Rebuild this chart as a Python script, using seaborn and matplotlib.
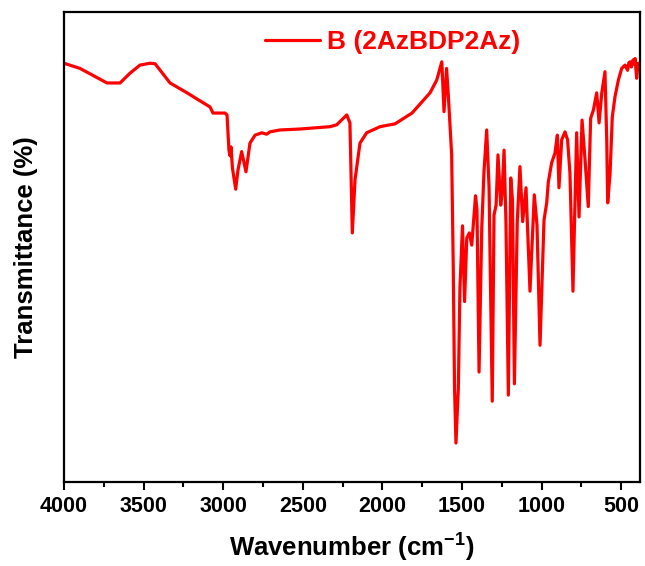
import matplotlib
matplotlib.use("Agg")
import matplotlib.pyplot as plt
import seaborn as sns
import pandas as pd
from matplotlib.ticker import MultipleLocator

# ---- data ----
wavenumber = [4000, 3900, 3730, 3648, 3585, 3523, 3460, 3428, 3334, 3227, 3146, 3083,
              3064, 2989, 2976, 2964, 2957, 2951, 2942, 2921.5, 2907, 2884, 2857, 2832,
              2800, 2758, 2727, 2706, 2643, 2518, 2329, 2287, 2224, 2204, 2189, 2172,
              2141, 2099, 2015, 1921, 1814, 1701, 1659, 1627, 1613, 1597, 1586, 1565,
              1555, 1547, 1538, 1523, 1513, 1497, 1484, 1470, 1454, 1439, 1415, 1406,
              1393, 1376, 1362, 1345, 1330, 1324, 1310, 1299, 1286, 1274, 1257, 1249,
              1236, 1224, 1209, 1194, 1183, 1171, 1153, 1136, 1119, 1098, 1073, 1046,
              1029, 1010, 985, 968, 958, 937, 916, 901, 891, 874, 853, 837, 822, 803,
              793, 780, 765, 746, 727, 707, 692, 675, 654, 639, 622, 602, 591, 585,
              570, 556, 539, 518, 497, 476, 460, 452, 445, 436, 426, 418, 413, 403, 394]
transmittance = [89.1, 88.0, 84.9, 84.9, 87.0, 88.7, 89.1, 89.0, 84.9, 82.8, 81.1, 79.8,
                 78.5, 78.5, 78.1, 70.6, 69.4, 71.3, 66.8, 62.3, 66.4, 70.3, 66.0, 72.1,
                 73.8, 74.3, 74.0, 74.5, 74.9, 75.1, 75.6, 76.0, 78.1, 76.4, 53.0, 64.3,
                 72.1, 74.3, 75.6, 76.2, 78.5, 82.8, 85.5, 89.4, 78.8, 88.0, 82.3, 69.6,
                 45.7, 20.0, 8.3, 20.0, 41.3, 54.5, 38.4, 51.9, 53.0, 50.4, 60.9, 57.9,
                 23.4, 54.0, 66.0, 74.9, 62.6, 48.3, 17.2, 56.8, 58.9, 69.6, 58.9, 61.1,
                 70.6, 55.4, 18.5, 64.7, 60.0, 20.9, 55.4, 67.1, 55.4, 62.6, 40.6, 61.1,
                 54.7, 29.1, 55.7, 59.4, 63.8, 67.9, 70.0, 73.8, 62.6, 72.8, 74.5, 72.8,
                 65.7, 40.6, 55.7, 74.3, 56.4, 77.0, 68.5, 58.6, 77.4, 79.1, 82.8, 76.4,
                 82.8, 87.3, 72.8, 59.4, 65.7, 77.7, 82.0, 85.5, 88.0, 88.7, 87.6, 89.2,
                 89.4, 88.3, 89.8, 88.9, 90.1, 85.9, 89.1]
series_name = "B (2AzBDP2Az)"
x_ticks = [4000, 3500, 3000, 2500, 2000, 1500, 1000, 500]

df = pd.DataFrame({"Wavenumber": wavenumber, "T": transmittance, "Sample": series_name})

sns.set_style("ticks")
plt.rcParams["font.family"] = ["Liberation Sans", "DejaVu Sans"]
plt.rcParams["font.weight"] = "bold"
plt.rcParams["text.color"] = "black"
plt.rcParams["axes.labelcolor"] = "black"
plt.rcParams["xtick.color"] = "black"
plt.rcParams["ytick.color"] = "black"
plt.rcParams["mathtext.fontset"] = "custom"
plt.rcParams["mathtext.rm"] = "Liberation Sans:bold"
plt.rcParams["mathtext.bf"] = "Liberation Sans:bold"
plt.rcParams["mathtext.it"] = "Liberation Sans:bold"

fig = plt.figure(figsize=(6.45, 5.66), dpi=100)
ax = fig.add_axes([64 / 645, 1 - 482 / 566, 576 / 645, 470 / 566])

sns.lineplot(data=df, x="Wavenumber", y="T", hue="Sample", palette=["#ff0000"],
             sort=False, estimator=None, linewidth=2.3, ax=ax)

ax.set_xlim(4000, 382)
ax.set_ylim(0, 100)
ax.set_xticks(x_ticks)
ax.set_xticklabels([str(t) for t in x_ticks])
ax.xaxis.set_minor_locator(MultipleLocator(250))
ax.set_yticks([])
ax.tick_params(axis="x", which="major", direction="out", length=6, width=1.5,
               labelsize=15.5, pad=4, colors="black")
ax.tick_params(axis="x", which="minor", direction="out", length=3.5, width=1.5,
               colors="black")
for lab in ax.get_xticklabels():
    lab.set_fontweight("bold")
for s in ax.spines.values():
    s.set_visible(True)
    s.set_linewidth(1.6)
    s.set_color("black")

ax.set_xlabel(r"Wavenumber (cm$^{-1}$)", fontsize=18.5, fontweight="bold",
              labelpad=11, color="black")
ax.set_ylabel("Transmittance (%)", fontsize=18.5, fontweight="bold",
              labelpad=19, color="black")

leg = ax.legend(loc="center", bbox_to_anchor=(0.57, 0.936), frameon=False,
                handlelength=2.1, handletextpad=0.25, fontsize=19)
for t in leg.get_texts():
    t.set_color("#ff0000")
    t.set_fontweight("bold")

fig.savefig("out.png", dpi=100)
